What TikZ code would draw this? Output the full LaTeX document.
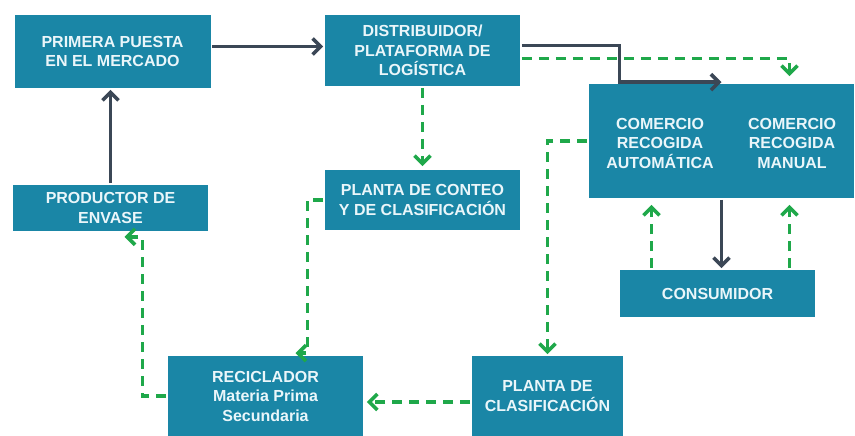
\documentclass[tikz,border=0pt]{standalone}
\usepackage{fontspec}
\setmainfont{Liberation Sans}
\usetikzlibrary{positioning}
\usetikzlibrary{arrows.meta}

\definecolor{boxteal}{HTML}{1A86A6}
\definecolor{flowdark}{HTML}{3B4756}
\definecolor{flowgreen}{HTML}{1FA84A}
\definecolor{boxtext}{HTML}{EAF6FA}

\begin{document}
\begin{tikzpicture}[x=1pt,y=-1pt,>={Straight Barb[length=8pt,width=16pt]},line width=3.6pt,
  box/.style={rectangle,fill=boxteal,text=boxtext,inner sep=0pt,align=center,font=\bfseries\fontsize{16}{19.5}\selectfont},
  boxlabel/.style={text=boxtext,inner sep=0pt,align=center,font=\bfseries\fontsize{16}{19.5}\selectfont},
  solidflow/.style={->,draw=flowdark},
  dashflow/.style={->,draw=flowgreen,dash pattern=on 10pt off 7pt}]
  \useasboundingbox (0,0) rectangle (855,436);

  \node[box,minimum width=196pt,minimum height=73pt] (Primera)    at (112.5,51.5) {PRIMERA PUESTA\\EN EL MERCADO};
  \node[box,minimum width=195pt,minimum height=71pt] (Distrib)    at (422.5,50.5) {DISTRIBUIDOR/\\PLATAFORMA DE\\LOG\'ISTICA};
  \node[box,minimum width=265pt,minimum height=114pt] (Comercio)  at (721.5,141)  {};
  \node[boxlabel] (Automatica) at (660,143) {COMERCIO\\RECOGIDA\\AUTOM\'ATICA};
  \node[boxlabel] (Manual)     at (792,143) {COMERCIO\\RECOGIDA\\MANUAL};
  \node[box,minimum width=195pt,minimum height=60pt] (Conteo)     at (422.5,200)  {PLANTA DE CONTEO\\Y DE CLASIFICACI\'ON};
  \node[box,minimum width=195pt,minimum height=46pt] (Productor)  at (110.5,208)  {PRODUCTOR DE\\ENVASE};
  \node[box,minimum width=195pt,minimum height=47pt] (Consumidor) at (717.5,293.5) {CONSUMIDOR};
  \node[box,minimum width=195pt,minimum height=80pt] (Reciclador) at (265.5,396)  {RECICLADOR\\Materia Prima\\Secundaria};
  \node[box,minimum width=151pt,minimum height=80pt] (Clasif)     at (547.5,396)  {PLANTA DE\\CLASIFICACI\'ON};

  \draw[solidflow] ([yshift=5pt]Primera.east) -- ([yshift=5pt]Primera.east -| Distrib.west);
  \draw[solidflow] (Productor.north) -- (Productor.north |- Primera.south);
  \draw[solidflow] ([yshift=5pt]Distrib.east) -| ([xshift=-102pt]Comercio.north) -- (Comercio.north);
  \draw[solidflow] (Comercio.south) -- (Comercio.south |- Consumidor.north);

  \draw[dashflow,shorten >=6pt] ([yshift=-8pt]Distrib.east) -| ([xshift=68pt]Comercio.north);
  \draw[dashflow,shorten >=2pt] (Distrib.south) -- (Conteo.north);
  \draw[dashflow] (Comercio.west) -| (Clasif.north);
  \draw[dashflow,shorten >=5pt] ([xshift=-66pt]Consumidor.north) -- ([xshift=-66pt]Consumidor.north |- Comercio.south);
  \draw[dashflow,shorten >=5pt] ([xshift=72pt]Consumidor.north) -- ([xshift=72pt]Consumidor.north |- Comercio.south);
  \draw[dashflow] (Conteo.west) -| ([xshift=42pt,yshift=1pt]Reciclador.north) -- ([xshift=30pt,yshift=1pt]Reciclador.north);
  \draw[dashflow] (Reciclador.west) -| ([xshift=32pt,yshift=-4pt]Productor.south) -- ([xshift=14pt,yshift=-4pt]Productor.south);
  \draw[dashflow,shorten >=2pt] ([yshift=-6pt]Clasif.west) -- ([yshift=-6pt]Clasif.west -| Reciclador.east);
\end{tikzpicture}
\end{document}
